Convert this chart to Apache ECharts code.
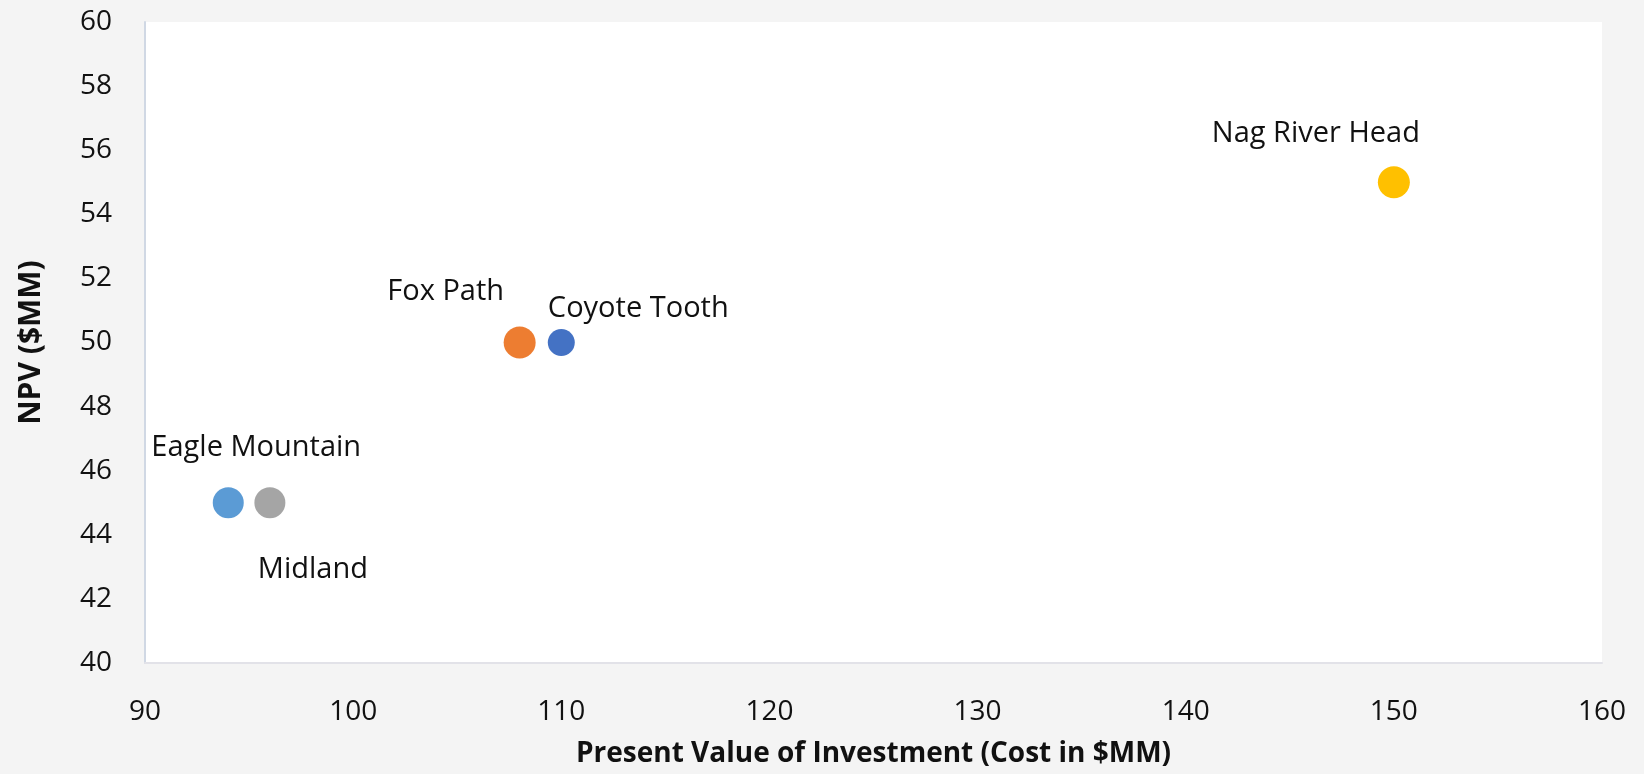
<!DOCTYPE html>
<html>
<head>
<meta charset="utf-8">
<script src="https://cdn.jsdelivr.net/npm/echarts@6/dist/echarts.min.js"></script>
<style>
html,body{margin:0;padding:0;background:#f4f4f4;}
#chart{width:1644px;height:774px;}
</style>
</head>
<body>
<div id="chart"></div>
<script>
const projects = ['Eagle Mountain', 'Midland', 'Fox Path', 'Coyote Tooth', 'Nag River Head'];
const investment = [94, 96, 108, 110, 150];
const npv = [45, 45, 50, 50, 55];
const colors = ['#5b9bd5', '#a5a5a5', '#ed7d31', '#4472c4', '#ffc000'];
const sizes = [31, 31, 32, 27, 32];
const labelOffsets = [[28, -55], [43, 67], [-74, -51], [77, -34], [-78, -49]];
const xTicks = {min: 90, max: 160, interval: 10};
const yTicks = {min: 40, max: 60, interval: 2};

const font = '"Open Sans", sans-serif';
const chart = echarts.init(document.getElementById('chart'));
const series = projects.map((name, i) => ({
  type: 'scatter',
  name: name,
  data: [[investment[i], npv[i]]],
  symbolSize: sizes[i],
  itemStyle: {color: colors[i], opacity: 1},
  label: {
    show: true,
    position: 'inside',
    offset: labelOffsets[i],
    formatter: name,
    color: '#111',
    fontSize: 29,
    fontFamily: font
  },
  emphasis: {disabled: true}
}));

chart.setOption({
  backgroundColor: '#f4f4f4',
  animation: false,
  grid: {
    left: 145, right: 42, top: 22, bottom: 111,
    outerBoundsMode: 'none',
    containLabel: false,
    show: true, backgroundColor: '#ffffff', borderWidth: 0
  },
  xAxis: {
    type: 'value',
    min: xTicks.min, max: xTicks.max, interval: xTicks.interval,
    name: 'Present Value of Investment (Cost in $MM)',
    nameLocation: 'middle',
    nameGap: 77,
    nameTextStyle: {fontSize: 28, fontWeight: 'bold', color: '#111', fontFamily: font},
    axisLine: {show: true, lineStyle: {color: '#e2e2e8', width: 2}},
    axisTick: {show: false},
    splitLine: {show: false},
    axisLabel: {fontSize: 28, color: '#111', margin: 35, fontFamily: font}
  },
  yAxis: {
    type: 'value',
    min: yTicks.min, max: yTicks.max, interval: yTicks.interval,
    name: 'NPV ($MM)',
    nameLocation: 'middle',
    nameGap: 99,
    nameRotate: 90,
    nameTextStyle: {fontSize: 30, fontWeight: 'bold', color: '#111', fontFamily: font},
    axisLine: {show: true, lineStyle: {color: '#d0d8e4', width: 2}},
    axisTick: {show: false},
    splitLine: {show: false},
    axisLabel: {fontSize: 28, color: '#111', margin: 33, fontFamily: font}
  },
  series: series
});
</script>
</body>
</html>
